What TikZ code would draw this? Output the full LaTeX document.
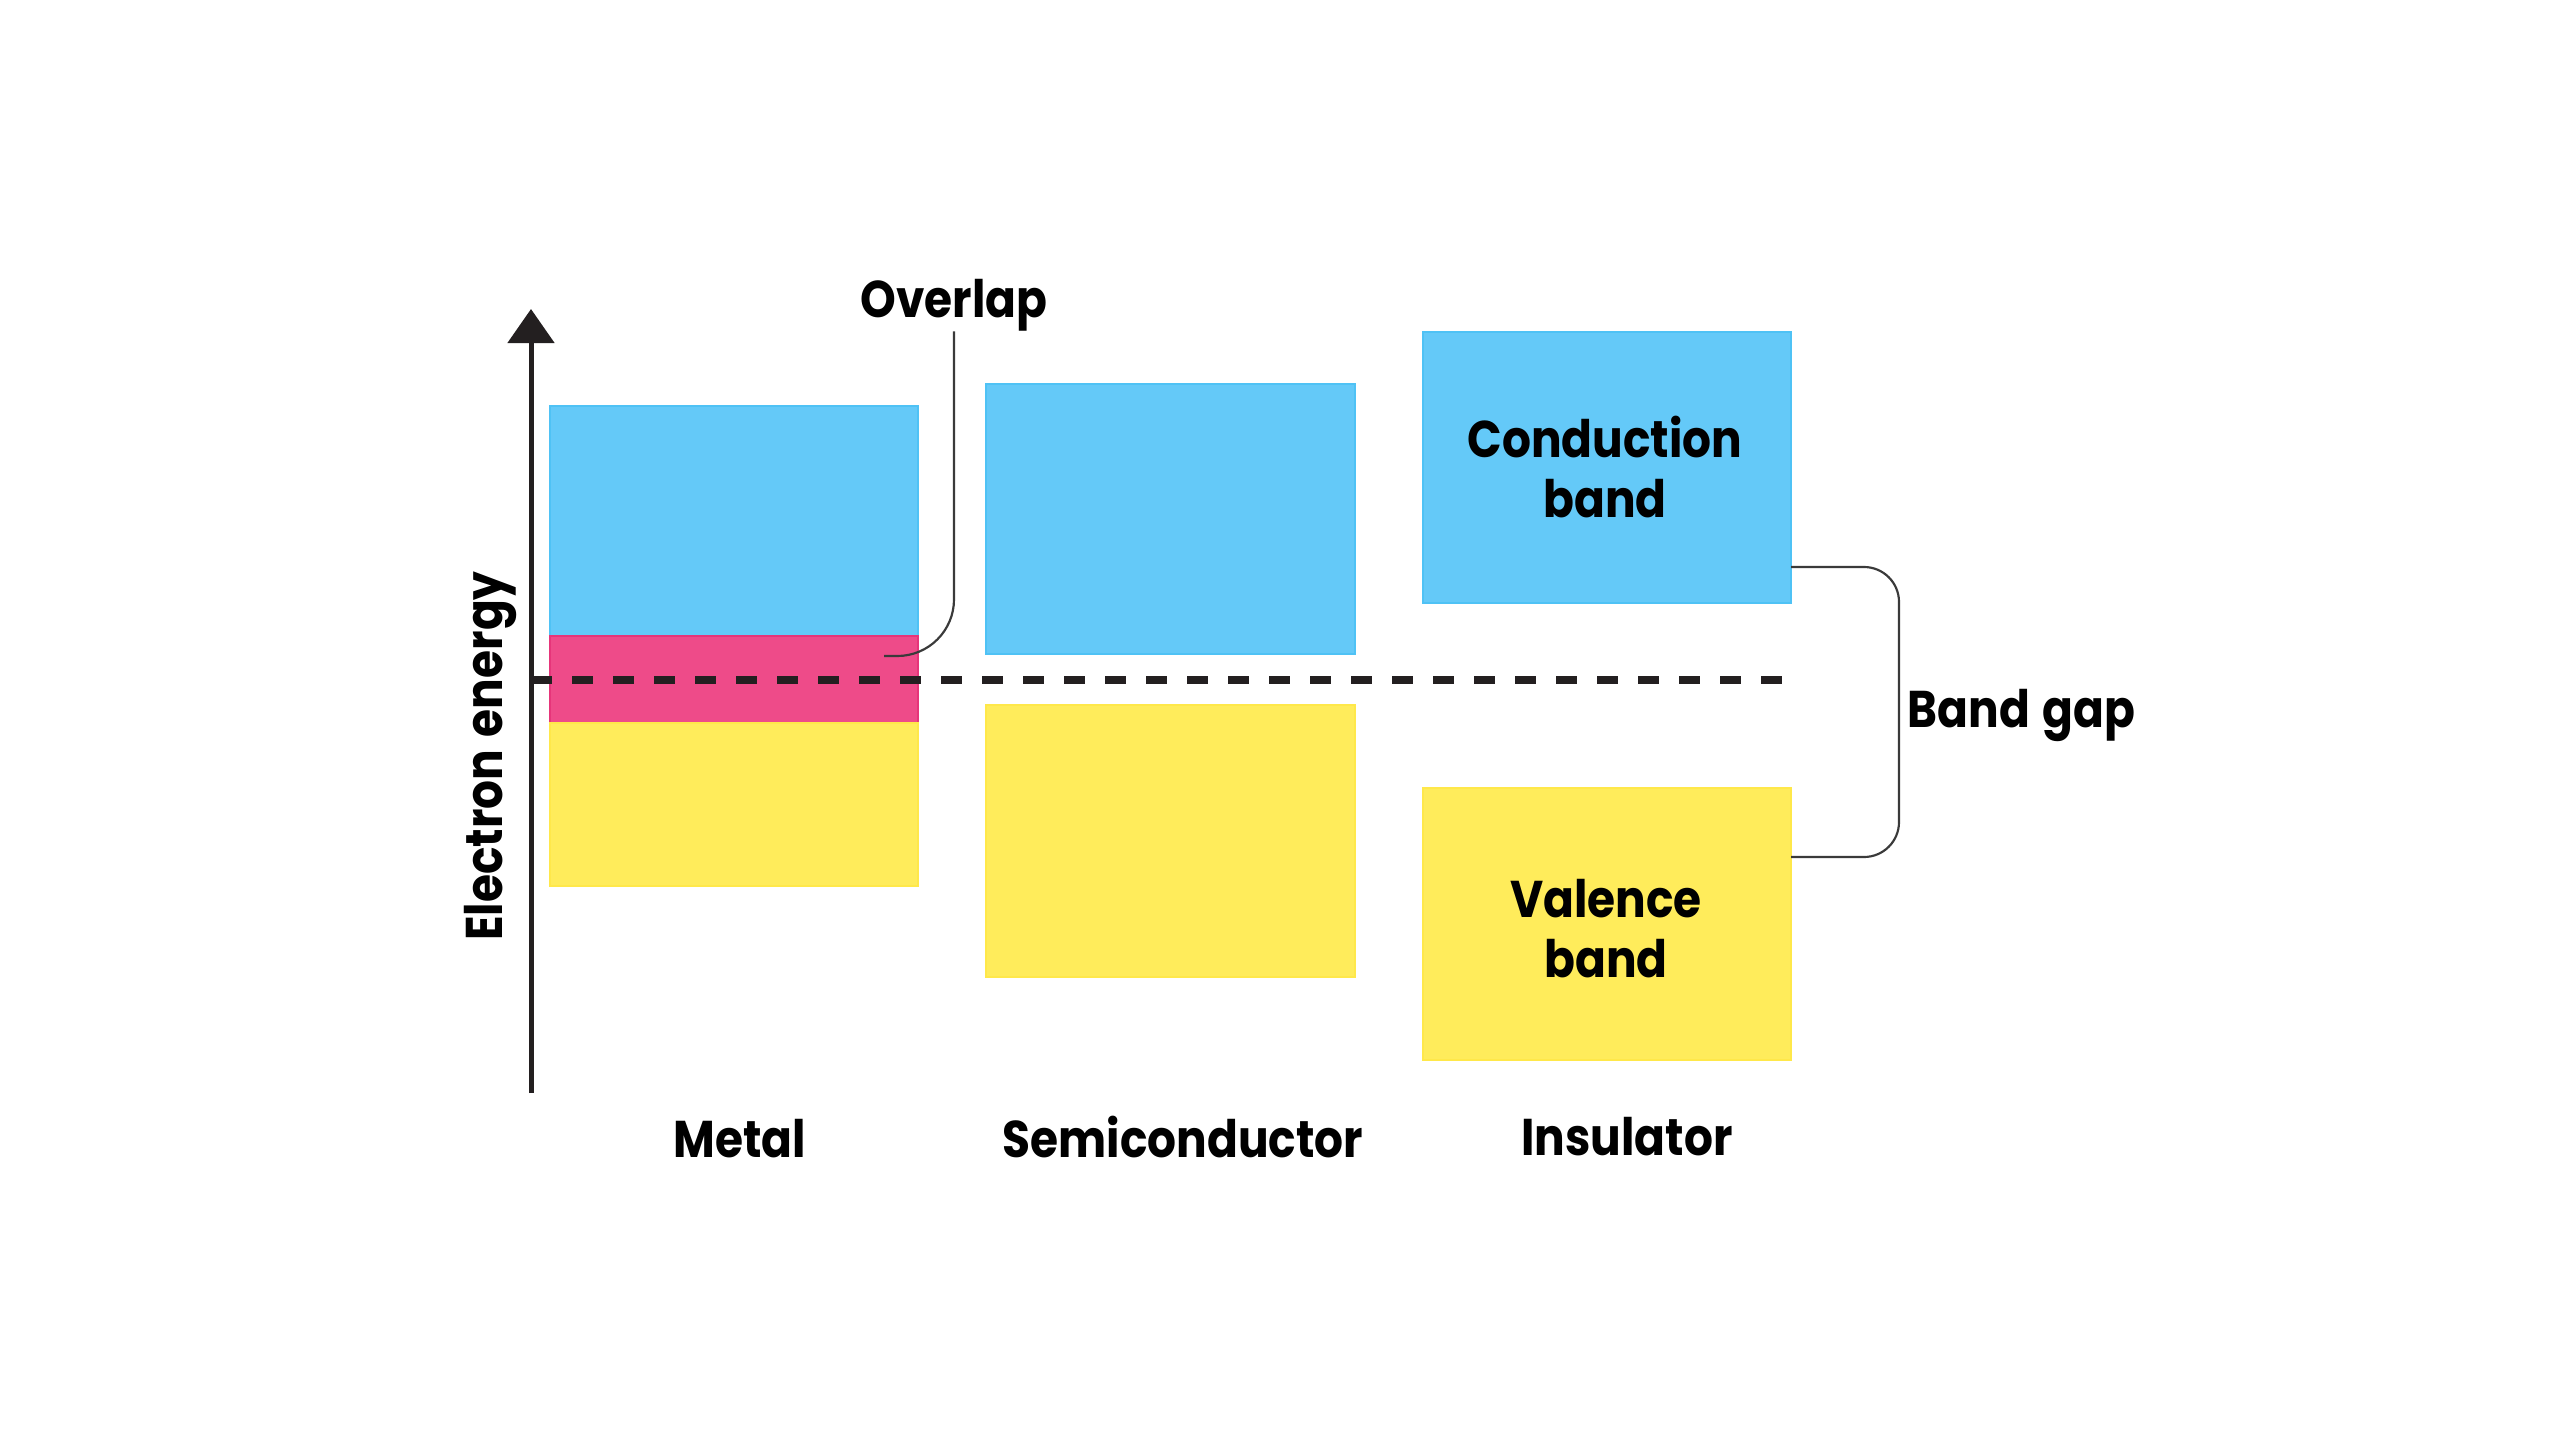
\documentclass[tikz,border=0pt]{standalone}
\usepackage{fontspec}
\setmainfont{Poppins}[FakeStretch=0.88, WordSpace=1.3]
\usetikzlibrary{arrows.meta,fit}
\definecolor{cblue}{HTML}{64C9F8}
\definecolor{cblueb}{HTML}{4FC2F5}
\definecolor{cyellow}{HTML}{FFEC5B}
\definecolor{cyellowb}{HTML}{FFE84A}
\definecolor{cpink}{HTML}{EE4B89}
\definecolor{cpinkb}{HTML}{E6357A}
\definecolor{ink}{HTML}{231F20}
\definecolor{lead}{HTML}{3A3A3A}
\tikzset{
  bandbox/.style={inner sep=0pt, outer sep=0pt, line width=0.5pt},
  cbandbox/.style={bandbox, fill=cblue, draw=cblueb},
  vbandbox/.style={bandbox, fill=cyellow, draw=cyellowb},
  obandbox/.style={bandbox, fill=cpink, draw=cpinkb},
  lbl/.style={font=\fontsize{15.5}{18}\selectfont\bfseries, text=black, inner sep=0pt},
  leaderline/.style={draw=lead, line width=0.65pt},
  axisline/.style={draw=ink, line width=1.5pt, -{Triangle[width=13.8pt,length=10.2pt]}},
  fermiline/.style={draw=ink, line width=2.5pt, dash pattern=on 6.3pt off 6pt},
}
\begin{document}
\begin{tikzpicture}[x=0.3pt,y=-0.3pt]
\useasboundingbox (0,0) rectangle (2560,1440);
% bands
\node[cbandbox, fit={(550,406)(918,636)}] (mblue) {};
\node[obandbox, fit={(550,636)(918,723)}] (mpink) {};
\node[vbandbox, fit={(550,723)(918,886)}] (myellow) {};
\node[cbandbox, fit={(986,384)(1355,654)}] (sblue) {};
\node[vbandbox, fit={(986,705)(1355,977)}] (syellow) {};
\node[cbandbox, fit={(1423,332)(1791,603)}] (iblue) {};
\node[vbandbox, fit={(1423,788)(1791,1060)}] (iyellow) {};
% axis
\coordinate (abot) at (531,1093);
\coordinate (atop) at (531,309);
\draw[axisline] (abot) -- (atop);
% fermi level
\coordinate (dstart) at (531,680);
\draw[fermiline] (dstart) -- (iblue.east |- dstart);
% labels in boxes
\node[lbl, align=center] (cond) at (1605,467) {Conduction\\band};
\node[lbl, align=center] (val) at (1606,929) {Valence\\band};
% overlap
\node[lbl, anchor=base] (ovl) at (954,317) {Overlap};
\coordinate (ovlend) at (884,656);
\draw[leaderline, rounded corners=17pt] (ovl.south) |- (ovlend);
% band gap bracket
\coordinate (bgtop) at (1791,567);
\coordinate (bgbot) at (1791,857);
\coordinate (bgmid) at (1899,712);
\draw[leaderline, rounded corners=10.5pt] (bgtop) -| (bgmid) |- (bgbot);
\node[lbl, anchor=base west] (bg) at (1907,727) {Band gap};
% axis label
\node[lbl, rotate=90, anchor=base] (ee) at (502,756) {Electron energy};
% column labels
\node[lbl, anchor=base] (lmetal) at (740,1157) {Metal};
\node[lbl, anchor=base] (lsemi) at (1183,1157) {Semiconductor};
\node[lbl, anchor=base] (lins) at (1627,1155) {Insulator};
\end{tikzpicture}
\end{document}
